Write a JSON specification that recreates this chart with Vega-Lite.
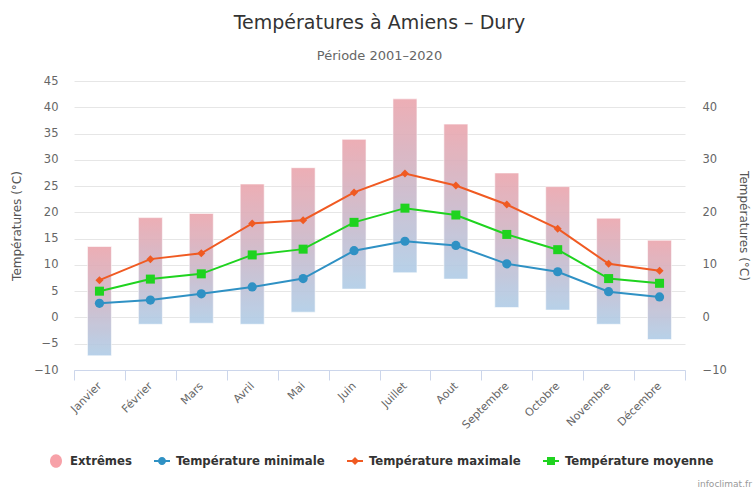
{
  "$schema": "https://vega.github.io/schema/vega-lite/v6.json",
  "width": 611,
  "height": 289,
  "autosize": "none",
  "padding": {"left": 74, "top": 81, "right": 69, "bottom": 119},
  "background": "#ffffff",
  "title": {
    "text": "Températures à Amiens – Dury",
    "subtitle": "Période 2001–2020",
    "anchor": "middle",
    "frame": "group",
    "font": "DejaVu Sans",
    "fontSize": 19,
    "fontWeight": "normal",
    "color": "#333333",
    "subtitleFont": "DejaVu Sans",
    "subtitleFontSize": 13,
    "subtitleColor": "#666666",
    "subtitlePadding": 17,
    "offset": 12
  },
  "data": {
    "values": [
      {"mois": "Janvier", "lo": -7.3, "hi": 13.5, "tmin": 2.7, "tmean": 5.0, "tmax": 7.1},
      {"mois": "Février", "lo": -1.3, "hi": 19.0, "tmin": 3.3, "tmean": 7.3, "tmax": 11.1},
      {"mois": "Mars", "lo": -1.1, "hi": 19.8, "tmin": 4.5, "tmean": 8.3, "tmax": 12.2},
      {"mois": "Avril", "lo": -1.3, "hi": 25.4, "tmin": 5.8, "tmean": 11.9, "tmax": 17.9},
      {"mois": "Mai", "lo": 1.0, "hi": 28.5, "tmin": 7.4, "tmean": 13.0, "tmax": 18.5},
      {"mois": "Juin", "lo": 5.4, "hi": 33.9, "tmin": 12.7, "tmean": 18.1, "tmax": 23.8},
      {"mois": "Juillet", "lo": 8.5, "hi": 41.6, "tmin": 14.5, "tmean": 20.8, "tmax": 27.4},
      {"mois": "Aout", "lo": 7.3, "hi": 36.8, "tmin": 13.7, "tmean": 19.5, "tmax": 25.1},
      {"mois": "Septembre", "lo": 1.9, "hi": 27.5, "tmin": 10.2, "tmean": 15.8, "tmax": 21.5},
      {"mois": "Octobre", "lo": 1.4, "hi": 24.9, "tmin": 8.7, "tmean": 12.9, "tmax": 16.9},
      {"mois": "Novembre", "lo": -1.3, "hi": 18.9, "tmin": 4.9, "tmean": 7.4, "tmax": 10.2},
      {"mois": "Décembre", "lo": -4.2, "hi": 14.7, "tmin": 3.9, "tmean": 6.5, "tmax": 8.9}
    ]
  },
  "encoding": {
    "x": {
      "field": "mois",
      "type": "nominal",
      "sort": null,
      "scale": {"paddingInner": 0, "paddingOuter": 0},
      "axis": {
        "title": "infoclimat.fr",
        "titleFontSize": 9,
        "titleFontWeight": "normal",
        "titleColor": "#999999",
        "titleAlign": "left",
        "titleBaseline": "alphabetic",
        "titleX": 623,
        "titleY": 116,
        "tickBand": "extent",
        "labelAngle": -45,
        "labelAlign": "right",
        "labelBaseline": "middle",
        "labelFontSize": 11,
        "labelColor": "#666666",
        "labelPadding": 4,
        "tickSize": 10,
        "tickColor": "#ccd6eb",
        "domainColor": "#ccd6eb",
        "grid": false
      }
    }
  },
  "layer": [
    {
      "mark": {
        "type": "bar",
        "size": 24,
        "color": {
          "gradient": "linear",
          "x1": 0, "y1": 0, "x2": 0, "y2": 1,
          "stops": [
            {"offset": 0, "color": "#eba6ae"},
            {"offset": 0.5, "color": "#ccb7c8"},
            {"offset": 1, "color": "#b0cde7"}
          ]
        },
        "opacity": 0.9,
        "stroke": "#ffffff",
        "strokeWidth": 1,
        "strokeOpacity": 0.6
      },
      "encoding": {
        "y": {
          "field": "lo",
          "type": "quantitative",
          "scale": {"domain": [-10, 45], "nice": false, "zero": false},
          "axis": {
            "title": "Températures (°C)",
            "values": [-10, -5, 0, 5, 10, 15, 20, 25, 30, 35, 40, 45],
            "grid": true,
            "gridColor": "#e6e6e6",
            "domain": false,
            "ticks": false,
            "labelPadding": 16,
            "labelFontSize": 11.5,
            "labelColor": "#666666",
            "titleFontSize": 12,
            "titleFontWeight": "normal",
            "titleColor": "#555555",
            "titlePadding": 10
          }
        },
        "y2": {"field": "hi"}
      }
    },
    {
      "mark": {"type": "line", "color": "#2f91c4", "strokeWidth": 2},
      "encoding": {
        "y": {
          "field": "tmin",
          "type": "quantitative",
          "axis": {
            "title": "Températures (°C)",
            "orient": "right",
            "values": [-10, 0, 10, 20, 30, 40],
            "grid": false,
            "domain": false,
            "ticks": false,
            "labelPadding": 17,
            "labelFontSize": 11.5,
            "labelColor": "#666666",
            "titleFontSize": 12,
            "titleFontWeight": "normal",
            "titleColor": "#555555",
            "titlePadding": 10
          }
        }
      }
    },
    {
      "mark": {"type": "point", "filled": true, "shape": "circle", "size": 85, "color": "#2f91c4", "opacity": 1},
      "encoding": {"y": {"field": "tmin", "type": "quantitative", "axis": null}}
    },
    {
      "mark": {"type": "line", "color": "#f05a22", "strokeWidth": 2},
      "encoding": {"y": {"field": "tmax", "type": "quantitative", "axis": null}}
    },
    {
      "mark": {"type": "point", "filled": true, "shape": "diamond", "size": 64, "color": "#f05a22", "opacity": 1},
      "encoding": {"y": {"field": "tmax", "type": "quantitative", "axis": null}}
    },
    {
      "mark": {"type": "line", "color": "#1fd31f", "strokeWidth": 2},
      "encoding": {"y": {"field": "tmean", "type": "quantitative", "axis": null}}
    },
    {
      "mark": {"type": "point", "filled": true, "shape": "square", "size": 81, "color": "#1fd31f", "opacity": 1},
      "encoding": {"y": {"field": "tmean", "type": "quantitative", "axis": null}}
    },
    {
      "data": {"values": []},
      "mark": {"type": "point", "filled": true, "opacity": 1},
      "encoding": {
        "color": {
          "field": "serie",
          "type": "nominal",
          "scale": {
            "domain": ["Extrêmes", "Température minimale", "Température maximale", "Température moyenne"],
            "range": ["#f7a1a8", "#2f91c4", "#f05a22", "#1fd31f"]
          },
          "legend": {
            "title": null,
            "orient": "none",
            "legendX": -26,
            "legendY": 372,
            "direction": "horizontal",
            "labelFont": "DejaVu Sans Condensed",
            "labelFontWeight": "bold",
            "labelFontSize": 13,
            "labelColor": "#333333",
            "symbolSize": 256,
            "symbolStrokeWidth": 0,
            "symbolOpacity": 1,
            "columnPadding": 22,
            "labelOffset": 6
          }
        },
        "shape": {
          "field": "serie",
          "type": "nominal",
          "scale": {
            "domain": ["Extrêmes", "Température minimale", "Température maximale", "Température moyenne"],
            "range": [
              "M0.75,0A0.75,0.85 0 1,1 -0.75,0A0.75,0.85 0 1,1 0.75,0Z",
              "M-1,-0.125H1V0.125H-1Z M0.5,0A0.5,0.5 0 1,1 -0.5,0A0.5,0.5 0 1,1 0.5,0Z",
              "M-1,-0.125H1V0.125H-1Z M0,-0.5L0.5,0L0,0.5L-0.5,0Z",
              "M-1,-0.125H1V0.125H-1Z M-0.5,-0.5H0.5V0.5H-0.5Z"
            ]
          }
        }
      }
    }
  ],
  "resolve": {"axis": {"y": "independent"}},
  "config": {
    "font": "DejaVu Sans",
    "view": {"stroke": null},
    "axis": {"labelFont": "DejaVu Sans", "titleFont": "DejaVu Sans"}
  }
}
